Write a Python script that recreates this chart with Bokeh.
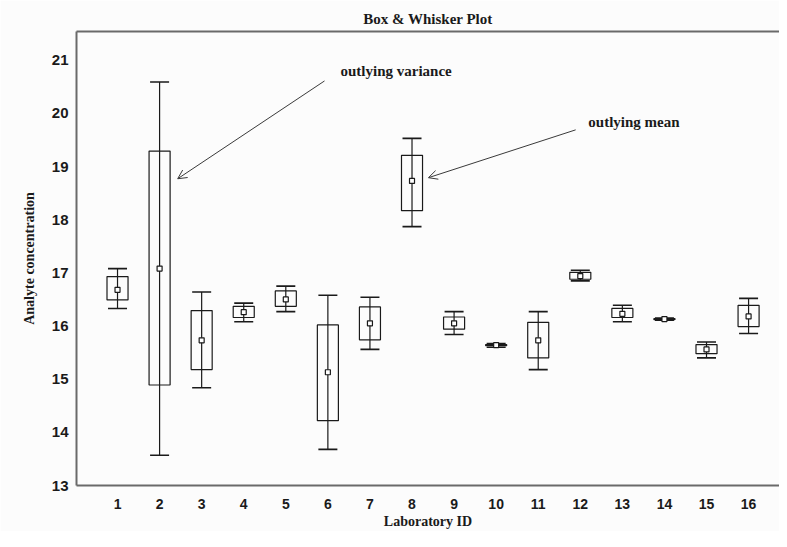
from bokeh.plotting import figure
from bokeh.models import (ColumnDataSource, Whisker, TeeHead, FixedTicker, Range1d,
                          Arrow, OpenHead, Label, LinearAxis)
from bokeh.embed import file_html
from bokeh.resources import INLINE

labs = list(range(1, 17))
whisker_hi = [17.08, 20.59, 16.64, 16.43, 16.75, 16.58, 16.54, 19.53, 16.27, 15.67, 16.27, 17.05, 16.39, 16.15, 15.70, 16.52]
box_hi     = [16.93, 19.29, 16.29, 16.37, 16.66, 16.02, 16.36, 19.21, 16.17, 15.65, 16.07, 17.01, 16.33, 16.14, 15.65, 16.39]
means      = [16.68, 17.08, 15.73, 16.26, 16.50, 15.13, 16.05, 18.73, 16.05, 15.64, 15.73, 16.94, 16.23, 16.13, 15.56, 16.18]
box_lo     = [16.49, 14.89, 15.18, 16.16, 16.37, 14.22, 15.74, 18.17, 15.94, 15.63, 15.40, 16.88, 16.16, 16.12, 15.48, 15.99]
whisker_lo = [16.33, 13.57, 14.84, 16.08, 16.27, 13.68, 15.56, 17.87, 15.84, 15.60, 15.18, 16.85, 16.08, 16.11, 15.40, 15.86]

y_ticks = [13, 14, 15, 16, 17, 18, 19, 20, 21]

src = ColumnDataSource(dict(lab=labs, whi=whisker_hi, bhi=box_hi, mean=means,
                            blo=box_lo, wlo=whisker_lo))

SERIF = "Liberation Serif"
SANS = "Liberation Sans"
INK = "#1a1a1a"
FRAME = "#6a6a6a"
BG = "#fcfcfc"

p = figure(width=779, height=531, output_backend="svg", toolbar_location=None,
           x_range=Range1d(0.025, 16.735), y_range=Range1d(13, 21.54),
           title="Box & Whisker Plot",
           min_border_left=76, min_border_right=0, min_border_top=31, min_border_bottom=0)

p.background_fill_color = BG
p.border_fill_color = BG
p.outline_line_color = None
p.xgrid.visible = False
p.ygrid.visible = False

p.title.text_font = SERIF
p.title.text_font_style = "bold"
p.title.text_font_size = "15px"
p.title.align = "center"
p.title.text_color = INK

xax = p.below[0]
yax = p.left[0]

for ax in (xax, yax):
    ax.axis_line_color = FRAME
    ax.axis_line_width = 2
    ax.major_tick_line_color = None
    ax.minor_tick_line_color = None
    ax.major_label_text_font = SANS
    ax.major_label_text_font_style = "bold"
    ax.major_label_text_color = INK
    ax.axis_label_text_font = SERIF
    ax.axis_label_text_font_style = "bold"
    ax.axis_label_text_font_size = "14px"
    ax.axis_label_text_color = INK

xax.ticker = FixedTicker(ticks=labs)
yax.ticker = FixedTicker(ticks=y_ticks)
xax.major_label_text_font_size = "14px"
yax.major_label_text_font_size = "15px"
xax.major_label_standoff = 7
yax.major_label_standoff = 2
xax.axis_label = "Laboratory ID"
yax.axis_label = "Analyte concentration"
xax.axis_label_standoff = 2
yax.axis_label_standoff = 12

top_axis = LinearAxis(axis_line_color=FRAME, axis_line_width=2,
                      ticker=FixedTicker(ticks=[]),
                      major_tick_line_color=None, minor_tick_line_color=None,
                      major_label_text_font_size="0px", major_label_standoff=0)
p.add_layout(top_axis, "above")

w = Whisker(base="lab", upper="whi", lower="wlo", source=src,
            line_color=INK, line_width=1.2,
            upper_head=TeeHead(size=19, line_color=INK, line_width=1.6),
            lower_head=TeeHead(size=19, line_color=INK, line_width=1.6))
p.add_layout(w)

p.vbar(x="lab", top="bhi", bottom="blo", width=0.5, source=src,
       fill_color=None, line_color=INK, line_width=1.2)
p.scatter(x="lab", y="mean", source=src, marker="square", size=5,
          fill_color="white", line_color=INK, line_width=1.2)

ARROW = "#3a3a3a"
p.add_layout(Arrow(end=OpenHead(size=9, line_color=ARROW, line_width=1),
                   x_start=5.92, y_start=20.61, x_end=2.43, y_end=18.77,
                   line_color=ARROW, line_width=1))
p.add_layout(Arrow(end=OpenHead(size=9, line_color=ARROW, line_width=1),
                   x_start=11.89, y_start=19.69, x_end=8.39, y_end=18.79,
                   line_color=ARROW, line_width=1))
p.add_layout(Label(x=6.3, y=20.8, text="outlying variance", text_font=SERIF,
                   text_font_style="bold", text_font_size="15px", text_color=INK,
                   text_baseline="middle"))
p.add_layout(Label(x=12.19, y=19.84, text="outlying mean", text_font=SERIF,
                   text_font_style="bold", text_font_size="15px", text_color=INK,
                   text_baseline="middle"))

open("out.html", "w").write(file_html(p, INLINE))
